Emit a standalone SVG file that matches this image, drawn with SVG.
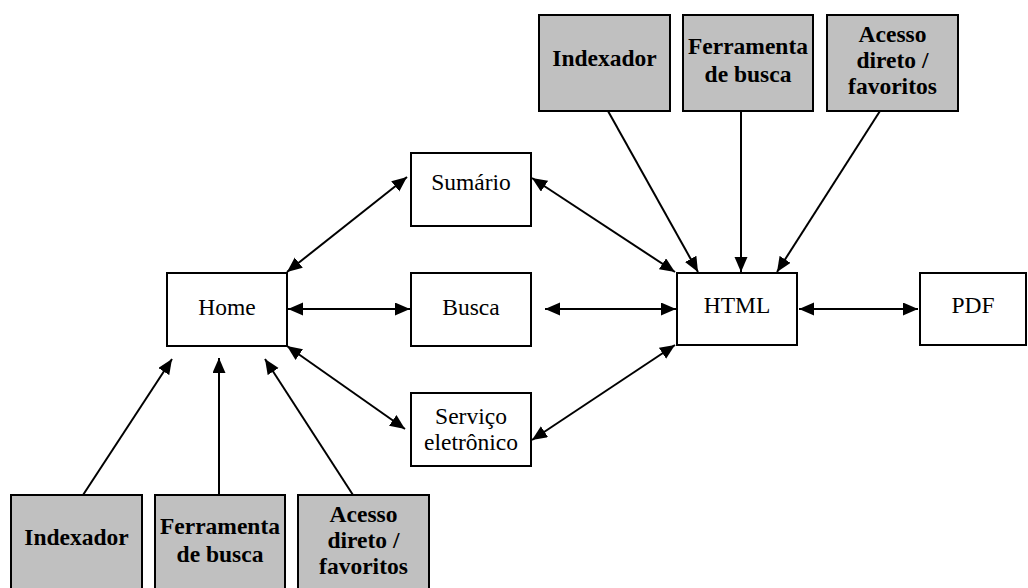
<svg xmlns="http://www.w3.org/2000/svg" width="1028" height="588" viewBox="0 0 1028 588">
<style>
.box{fill:#fff;stroke:#000;stroke-width:2}
.gbox{fill:#c0c0c0;stroke:#000;stroke-width:2}
.t{font-family:"Liberation Serif","Times New Roman",serif;font-size:23.5px;text-anchor:middle;fill:#000}
.b{font-weight:bold}
.c line{stroke:#000;stroke-width:2}
.bi{marker-start:url(#ah);marker-end:url(#ah)}
.uni{marker-end:url(#ah)}
</style>
<defs>
<marker id="ah" markerUnits="userSpaceOnUse" markerWidth="16" markerHeight="14" refX="15" refY="6.5" orient="auto-start-reverse">
<path d="M0,0 L15,6.5 L0,13 z" fill="#000"/>
</marker>
</defs>
<rect width="1028" height="588" fill="#fff"/>
<g id="top-indexador"><rect class="gbox" x="539" y="15" width="131" height="96"/><text class="t b" x="604.5" y="66">Indexador</text></g>
<g id="top-ferramenta"><rect class="gbox" x="683" y="15" width="130" height="96"/><text class="t b" x="748" y="54">Ferramenta</text><text class="t b" x="748" y="82">de busca</text></g>
<g id="top-acesso"><rect class="gbox" x="827" y="15" width="131" height="96"/><text class="t b" x="892.5" y="42">Acesso</text><text class="t b" x="892.5" y="68">direto /</text><text class="t b" x="892.5" y="94">favoritos</text></g>
<g id="sumario"><rect class="box" x="411" y="153" width="120" height="73"/><text class="t" x="471" y="190">Sumário</text></g>
<g id="home"><rect class="box" x="167" y="273" width="120" height="73"/><text class="t" x="227" y="315">Home</text></g>
<g id="busca"><rect class="box" x="411" y="273" width="120" height="73"/><text class="t" x="471" y="315">Busca</text></g>
<g id="html"><rect class="box" x="677" y="273" width="120" height="72"/><text class="t" x="737" y="313">HTML</text></g>
<g id="pdf"><rect class="box" x="920" y="273" width="106" height="72"/><text class="t" x="973" y="313">PDF</text></g>
<g id="servico"><rect class="box" x="411" y="393" width="120" height="73"/><text class="t" x="471" y="424">Serviço</text><text class="t" x="471" y="450">eletrônico</text></g>
<g id="bottom-indexador"><rect class="gbox" x="11" y="495" width="131" height="110"/><text class="t b" x="76.5" y="545">Indexador</text></g>
<g id="bottom-ferramenta"><rect class="gbox" x="155" y="495" width="130" height="110"/><text class="t b" x="220" y="534">Ferramenta</text><text class="t b" x="220" y="562">de busca</text></g>
<g id="bottom-acesso"><rect class="gbox" x="298" y="495" width="131" height="110"/><text class="t b" x="363.5" y="522">Acesso</text><text class="t b" x="363.5" y="548">direto /</text><text class="t b" x="363.5" y="574">favoritos</text></g>
<g id="connectors" class="c">
<line class="bi" x1="287" y1="272" x2="407" y2="177"/>
<line class="bi" x1="288" y1="309" x2="410" y2="309"/>
<line class="bi" x1="287" y1="346" x2="405" y2="429"/>
<line class="bi" x1="532" y1="178" x2="675" y2="272"/>
<line class="bi" x1="545" y1="309" x2="676" y2="309"/>
<line class="bi" x1="532" y1="440" x2="675" y2="345"/>
<line class="bi" x1="799" y1="309" x2="918" y2="309"/>
<line class="uni" x1="608" y1="111" x2="698" y2="272"/>
<line class="uni" x1="741" y1="111" x2="741" y2="272"/>
<line class="uni" x1="880" y1="111" x2="777" y2="272"/>
<line class="uni" x1="83" y1="495" x2="172" y2="359"/>
<line class="uni" x1="219" y1="495" x2="219" y2="358"/>
<line class="uni" x1="353" y1="495" x2="265" y2="359"/>
</g>
</svg>
